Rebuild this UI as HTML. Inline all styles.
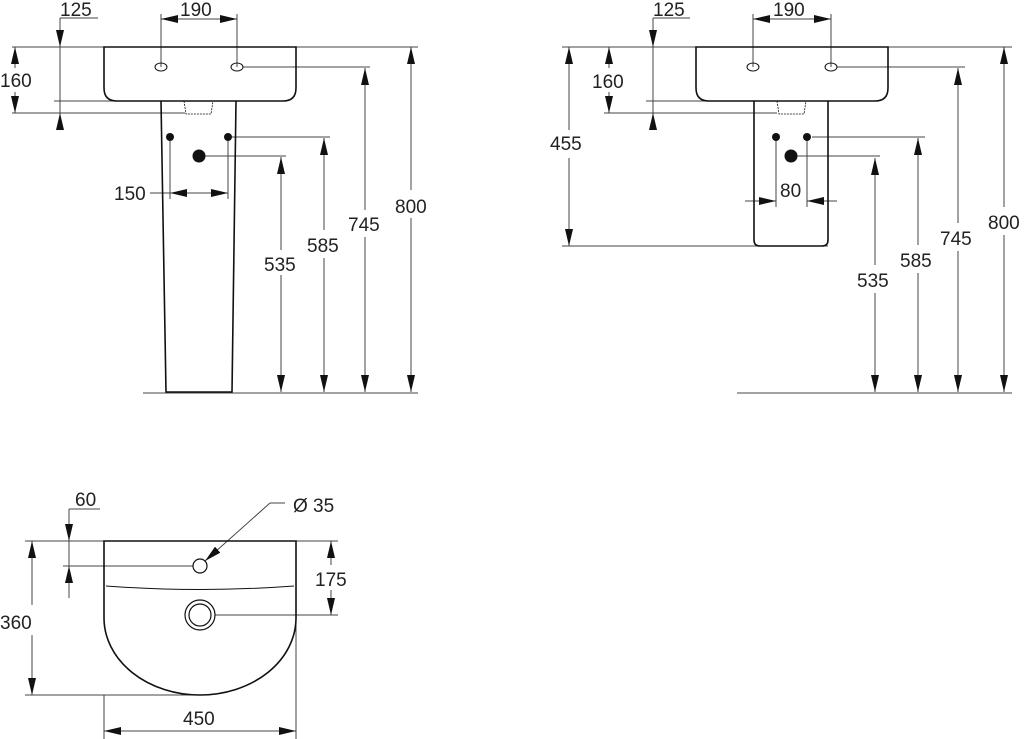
<!DOCTYPE html>
<html><head><meta charset="utf-8"><style>
html,body{margin:0;padding:0;background:#fff;width:1024px;height:739px;overflow:hidden}
svg text{font-family:"Liberation Sans",sans-serif;font-size:19px;fill:#222}
</style></head><body>
<svg width="1024" height="739" viewBox="0 0 1024 739" xmlns="http://www.w3.org/2000/svg">
<defs>
<marker id="a" viewBox="0 0 10 10" refX="10" refY="5" markerWidth="17" markerHeight="8" markerUnits="userSpaceOnUse" orient="auto-start-reverse" preserveAspectRatio="none"><path d="M0,0L10,5L0,10z" fill="#111"/></marker>
</defs>
<g stroke="#444" stroke-width="1" fill="none">
<line x1="12" y1="47" x2="418" y2="47"/>
<line x1="12" y1="113" x2="185" y2="113"/>
<line x1="54" y1="101" x2="185" y2="101"/>
<line x1="60" y1="18" x2="98" y2="18"/>
<line x1="60" y1="18" x2="60" y2="47" marker-end="url(#a)"/>
<line x1="60" y1="130" x2="60" y2="113" marker-end="url(#a)"/>
<line x1="60" y1="47" x2="60" y2="113"/>
<line x1="15" y1="68" x2="15" y2="47" marker-end="url(#a)"/>
<line x1="15" y1="92" x2="15" y2="113" marker-end="url(#a)"/>
<line x1="161" y1="14" x2="161" y2="67"/>
<line x1="237" y1="14" x2="237" y2="67"/>
<line x1="199" y1="19" x2="161" y2="19" marker-end="url(#a)"/>
<line x1="199" y1="19" x2="237" y2="19" marker-end="url(#a)"/>
<line x1="243" y1="67" x2="370" y2="67"/>
<line x1="232" y1="137" x2="330" y2="137"/>
<line x1="205" y1="156" x2="286" y2="156"/>
<line x1="170" y1="137" x2="170" y2="199"/>
<line x1="228" y1="137" x2="228" y2="199"/>
<line x1="150" y1="193" x2="199" y2="193"/>
<line x1="199" y1="193" x2="170" y2="193" marker-end="url(#a)"/>
<line x1="199" y1="193" x2="228" y2="193" marker-end="url(#a)"/>
<line x1="143" y1="393" x2="418" y2="393"/>
<line x1="281" y1="250" x2="281" y2="157" marker-end="url(#a)"/><line x1="281" y1="275" x2="281" y2="392" marker-end="url(#a)"/>
<line x1="324" y1="230" x2="324" y2="138" marker-end="url(#a)"/><line x1="324" y1="258" x2="324" y2="392" marker-end="url(#a)"/>
<line x1="365" y1="210" x2="365" y2="68" marker-end="url(#a)"/><line x1="365" y1="237" x2="365" y2="392" marker-end="url(#a)"/>
<line x1="411" y1="190" x2="411" y2="47" marker-end="url(#a)"/><line x1="411" y1="218" x2="411" y2="392" marker-end="url(#a)"/>
</g>
<g stroke="#111" stroke-width="1.6" fill="none">
<path d="M104,47 H296 V88 Q296,101 283,101 H117 Q104,101 104,88 Z"/>
<path d="M161,101 L166,392 H232 L236,101"/>
<path d="M184,101 L186,114 H211 L213,101" stroke-width="0.8" stroke-dasharray="2,1"/>
<ellipse cx="161" cy="67" rx="6" ry="4" stroke-width="1"/>
<ellipse cx="237" cy="67" rx="6" ry="4" stroke-width="1"/>
</g>
<g fill="#111"><circle cx="170" cy="137" r="4"/><circle cx="228" cy="137" r="4"/><circle cx="199" cy="156" r="6.5"/></g>
<text x="60" y="16">125</text><text x="180" y="16">190</text>
<text x="0" y="87">160</text><text x="114" y="200">150</text>
<text x="264" y="271">535</text><text x="307" y="252">585</text>
<text x="348" y="231">745</text><text x="395" y="213">800</text>

<g stroke="#444" stroke-width="1" fill="none">
<line x1="562" y1="47" x2="1012" y2="47"/>
<line x1="604" y1="113" x2="777" y2="113"/>
<line x1="646" y1="101" x2="777" y2="101"/>
<line x1="562" y1="246" x2="828" y2="246"/>
<line x1="653" y1="18" x2="690" y2="18"/>
<line x1="653" y1="18" x2="653" y2="47" marker-end="url(#a)"/>
<line x1="653" y1="130" x2="653" y2="113" marker-end="url(#a)"/>
<line x1="653" y1="47" x2="653" y2="113"/>
<line x1="609" y1="68" x2="609" y2="47" marker-end="url(#a)"/>
<line x1="609" y1="92" x2="609" y2="113" marker-end="url(#a)"/>
<line x1="569" y1="130" x2="569" y2="47" marker-end="url(#a)"/>
<line x1="569" y1="158" x2="569" y2="246" marker-end="url(#a)"/>
<line x1="753" y1="14" x2="753" y2="67"/>
<line x1="831" y1="14" x2="831" y2="67"/>
<line x1="792" y1="19" x2="753" y2="19" marker-end="url(#a)"/>
<line x1="792" y1="19" x2="831" y2="19" marker-end="url(#a)"/>
<line x1="837" y1="67" x2="965" y2="67"/>
<line x1="812" y1="137" x2="925" y2="137"/>
<line x1="797" y1="156" x2="880" y2="156"/>
<line x1="776" y1="137" x2="776" y2="207"/>
<line x1="807" y1="137" x2="807" y2="207"/>
<line x1="745" y1="201" x2="776" y2="201" marker-end="url(#a)"/>
<line x1="837" y1="201" x2="807" y2="201" marker-end="url(#a)"/>
<line x1="737" y1="393" x2="1012" y2="393"/>
<line x1="875" y1="265" x2="875" y2="158" marker-end="url(#a)"/><line x1="875" y1="293" x2="875" y2="392" marker-end="url(#a)"/>
<line x1="918" y1="245" x2="918" y2="138" marker-end="url(#a)"/><line x1="918" y1="273" x2="918" y2="392" marker-end="url(#a)"/>
<line x1="958" y1="223" x2="958" y2="68" marker-end="url(#a)"/><line x1="958" y1="251" x2="958" y2="392" marker-end="url(#a)"/>
<line x1="1004" y1="207" x2="1004" y2="47" marker-end="url(#a)"/><line x1="1004" y1="235" x2="1004" y2="392" marker-end="url(#a)"/>
</g>
<g stroke="#111" stroke-width="1.6" fill="none">
<path d="M696,47 H888 V88 Q888,101 875,101 H709 Q696,101 696,88 Z"/>
<path d="M754,101 V240 Q754,246 760,246 H822 Q828,246 828,240 V101"/>
<path d="M777,101 L779,114 H804 L806,101" stroke-width="0.8" stroke-dasharray="2,1"/>
<ellipse cx="753" cy="67" rx="6" ry="4" stroke-width="1"/>
<ellipse cx="831" cy="67" rx="6" ry="4" stroke-width="1"/>
</g>
<g fill="#111"><circle cx="776" cy="137" r="4"/><circle cx="807" cy="137" r="4"/><circle cx="791" cy="156" r="6.5"/></g>
<text x="653" y="16">125</text><text x="773" y="16">190</text>
<text x="592" y="88">160</text><text x="550" y="150">455</text>
<text x="780" y="197">80</text>
<text x="857" y="287">535</text><text x="900" y="267">585</text>
<text x="940" y="245">745</text><text x="988" y="229">800</text>

<g stroke="#444" stroke-width="1" fill="none">
<line x1="25" y1="541" x2="104" y2="541"/>
<line x1="296" y1="541" x2="338" y2="541"/>
<line x1="25" y1="695" x2="200" y2="695"/>
<line x1="63" y1="566" x2="193" y2="566"/>
<line x1="69" y1="509" x2="100" y2="509"/>
<line x1="69" y1="509" x2="69" y2="541" marker-end="url(#a)"/>
<line x1="69" y1="598" x2="69" y2="566" marker-end="url(#a)"/>
<line x1="69" y1="541" x2="69" y2="566"/>
<line x1="32" y1="605" x2="32" y2="541" marker-end="url(#a)"/>
<line x1="32" y1="635" x2="32" y2="695" marker-end="url(#a)"/>
<line x1="331" y1="565" x2="331" y2="541" marker-end="url(#a)"/>
<line x1="331" y1="590" x2="331" y2="615" marker-end="url(#a)"/>
<line x1="215" y1="615" x2="338" y2="615"/>
<line x1="104" y1="695" x2="104" y2="739"/>
<line x1="296" y1="541" x2="296" y2="739"/>
<line x1="200" y1="731" x2="104" y2="731" marker-end="url(#a)"/>
<line x1="200" y1="731" x2="296" y2="731" marker-end="url(#a)"/>
<line x1="285" y1="503" x2="270" y2="503"/>
<line x1="270" y1="503" x2="205" y2="561" marker-end="url(#a)"/>
</g>
<g stroke="#111" stroke-width="1.6" fill="none">
<path d="M104,541 H296 V618 A96,77 0 0 1 104,618 Z"/>
<path d="M106,586 Q200,593 294,586" stroke-width="1"/>
<circle cx="200" cy="566" r="7" stroke-width="1.2"/>
<circle cx="200" cy="615" r="15" stroke-width="1.2"/>
<circle cx="200" cy="615" r="11" stroke-width="1.2"/>
</g>
<text x="75" y="506">60</text><text x="293" y="512">Ø 35</text>
<text x="0" y="629">360</text><text x="315" y="586">175</text>
<text x="183" y="725">450</text>
</svg>
</body></html>
